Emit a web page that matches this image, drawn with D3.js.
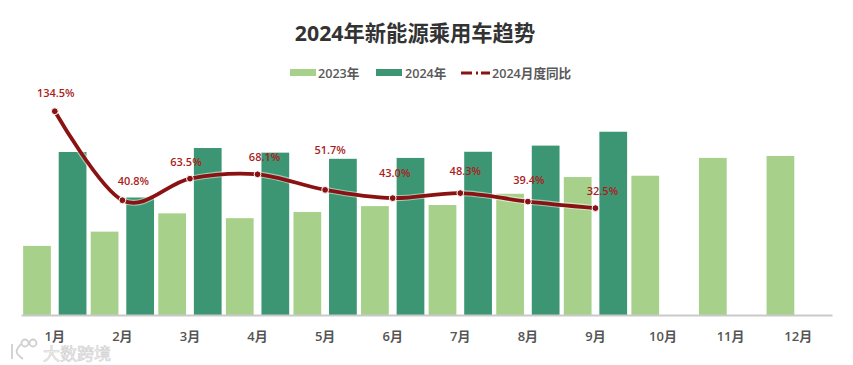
<!DOCTYPE html>
<html>
<head>
<meta charset="utf-8">
<script src="https://cdn.jsdelivr.net/npm/d3@7"></script>
<style>
    html, body { margin: 0; padding: 0; background: #fff; }
    svg { display: block; font-family: "Open Sans", "Noto Sans CJK SC", sans-serif; }
</style>
</head>
<body>
<div id="chart"></div>
<script>
const months = ["1月", "2月", "3月", "4月", "5月", "6月", "7月", "8月", "9月", "10月", "11月", "12月"];
const sales2023 = [31.4, 37.9, 46.2, 44.0, 46.8, 49.5, 50.0, 55.1, 62.7, 63.3, 71.4, 72.3];
const sales2024 = [74.1, 53.4, 75.9, 73.8, 71.0, 71.4, 74.2, 77.0, 83.3];
const yoy = [134.5, 40.8, 63.5, 68.1, 51.7, 43.0, 48.3, 39.4, 32.5];
// hand placed label offsets from each point, same as the original chart
const labelDx = [1, 11, -4, 7, 5, 2, 5, 1, 7];
const labelDy = [-18, -19, -17, -17, -40, -25, -22, -22, -17];

const width = 853, height = 365;
const seriesNames = ["2023年", "2024年", "2024月度同比"];
const color = { light: "#a7d18b", dark: "#3c9673", line: "#8a1212", label: "#ab1d1d" };

const svg = d3.select("#chart").append("svg").attr("width", width).attr("height", height);

const x0 = d3.scaleBand().domain(months).range([21, 832]);
const x1 = d3.scaleBand().domain(["a", "b"]).range([0, x0.bandwidth()]).paddingInner(0.22).paddingOuter(0.06);
const y = d3.scaleLinear().domain([0, 100]).range([315, 95]);
const y2 = d3.scaleLinear().domain([0, 140]).range([239, 106]);

svg.append("text").attr("x", 415).attr("y", 41).attr("text-anchor", "middle")
    .attr("font-size", 21.3).attr("font-weight", 700).attr("fill", "#333").text("2024年新能源乘用车趋势");

const barsG = svg.append("g");
barsG.selectAll(".b23").data(sales2023).enter().append("rect").attr("class", "b23")
    .attr("x", (d, i) => x0(months[i]) + x1("a")).attr("width", x1.bandwidth())
    .attr("y", d => y(d)).attr("height", d => y(0) - y(d)).attr("fill", color.light);
barsG.selectAll(".b24").data(sales2024).enter().append("rect").attr("class", "b24")
    .attr("x", (d, i) => x0(months[i]) + x1("b")).attr("width", x1.bandwidth())
    .attr("y", d => y(d)).attr("height", d => y(0) - y(d)).attr("fill", color.dark);

const xAxis = d3.axisBottom(x0).tickSize(0).tickPadding(17);
const gx = svg.append("g").attr("transform", `translate(0,${y(0)})`).call(xAxis);
gx.select(".domain").attr("stroke", "#c9c9c9").attr("stroke-width", 2);
gx.selectAll("text").attr("font-size", 13).attr("font-weight", 600).attr("fill", "#555")
    .style("font-family", '"Open Sans", "Noto Sans CJK SC", sans-serif');

const line = d3.line().x((d, i) => x0(months[i]) + x0.bandwidth() / 2).y(d => y2(d))
    .curve(d3.curveCatmullRom.alpha(0));

svg.append("path").datum(yoy).attr("d", line).attr("fill", "none")
    .attr("stroke", "#fff").attr("stroke-opacity", 0.5).attr("stroke-width", 6);
svg.append("path").datum(yoy).attr("d", line).attr("fill", "none")
    .attr("stroke", color.line).attr("stroke-width", 3.8).attr("stroke-linecap", "round");

svg.selectAll(".dot").data(yoy).enter().append("circle").attr("class", "dot")
    .attr("cx", (d, i) => x0(months[i]) + x0.bandwidth() / 2).attr("cy", d => y2(d))
    .attr("r", 3.4).attr("fill", color.line).attr("stroke", "#fff").attr("stroke-width", 1);

svg.selectAll(".pct").data(yoy).enter().append("text").attr("class", "pct")
    .attr("x", (d, i) => x0(months[i]) + x0.bandwidth() / 2 + labelDx[i])
    .attr("y", (d, i) => y2(d) + labelDy[i] + 4)
    .attr("text-anchor", "middle").attr("font-size", 11).attr("font-weight", 600)
    .attr("fill", color.label).text(d => d.toFixed(1) + "%");

// legend
const legendY = 73;
const legendG = svg.append("g");
legendG.append("rect").attr("x", 290).attr("y", legendY - 4).attr("width", 26).attr("height", 7).attr("fill", color.light);
legendG.append("rect").attr("x", 376).attr("y", legendY - 4).attr("width", 26).attr("height", 7).attr("fill", color.dark);
legendG.append("line").attr("x1", 461).attr("x2", 490).attr("y1", legendY).attr("y2", legendY)
    .attr("stroke", color.line).attr("stroke-width", 3).attr("stroke-dasharray", "11 4 2 3 10");
legendG.selectAll("text").data(seriesNames).enter().append("text")
    .attr("x", (d, i) => [318, 405, 492][i]).attr("y", legendY + 4.5)
    .attr("font-size", 12.6).attr("font-weight", 600).attr("fill", "#595959").text(d => d);

// watermark from the source image
const wm = svg.append("g").attr("fill", "none").attr("stroke", "#cfcfcf").attr("stroke-width", 1.8);
wm.append("path").attr("d", d3.line()([[12, 344], [12, 359]]));
wm.append("path").attr("d", d3.line().curve(d3.curveBasis)([[21, 344], [14, 352], [23, 359]]));
wm.append("circle").attr("cx", 25).attr("cy", 343).attr("r", 3.5);
wm.append("circle").attr("cx", 33).attr("cy", 343).attr("r", 3.5);
svg.append("text").attr("x", 43).attr("y", 360).attr("font-size", 17)
    .attr("fill", "#f2f2f2").attr("stroke", "#cfcfcf").attr("stroke-width", 0.6).text("大数跨境");
</script>
</body>
</html>
